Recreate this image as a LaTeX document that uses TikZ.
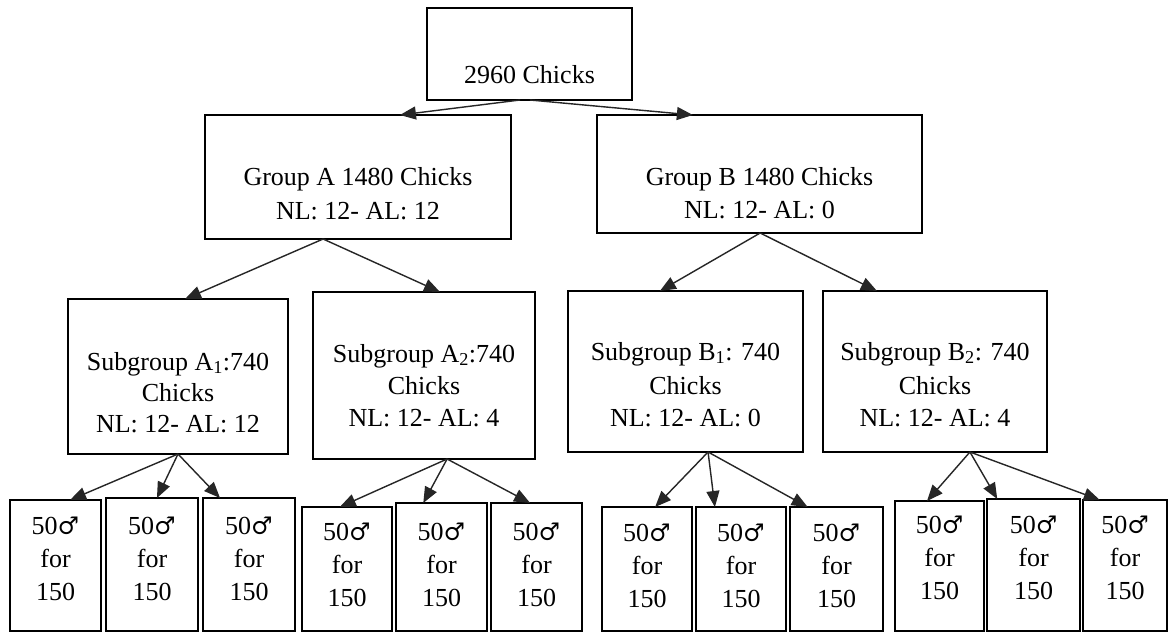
\documentclass[tikz,border=0pt]{standalone}
\usepackage{fontspec}
\setmainfont{Liberation Serif}
\newfontfamily\symf{DejaVu Serif}
\usetikzlibrary{arrows.meta,calc}
\newcommand\boxat[5]{\node[box, minimum width={(#4)-(#2)}, minimum height={(#5)-(#3)}] (#1) at (#2,#3) {};}
\newcommand\leafat[5]{%
  \boxat{#1}{#2}{#3}{#4}{631}
  \node[txt] (#1-1) at ({(#2+#4)/2},#5) {50{\symf\fontsize{24}{28}\selectfont ♂}};
  \node[txt] (#1-2) at ({(#2+#4)/2},#5+33) {for};
  \node[txt] (#1-3) at ({(#2+#4)/2},#5+66) {150};}
\newcommand\arrfrom[4]{\draw[arr] ($(#1.south west)!#2!(#1.south east)$) -- ($(#3.north west)!#4!(#3.north east)$);}
\begin{document}
\begin{tikzpicture}[x=1pt,y=-1pt,
  box/.style={draw=black, line width=1.5pt, anchor=north west, inner sep=0pt, outer sep=0pt},
  txt/.style={anchor=base, inner sep=0pt, text=black, font=\fontsize{26}{30}\selectfont},
  arr/.style={draw=black!85, line width=1.4pt, -{Triangle[length=16pt,width=13pt]}}]
\useasboundingbox[fill=white] (0,0) rectangle (1168,632);
% level 0
\boxat{root}{427}{8}{632}{100}
\node[txt] (root-t) at (529.5,83) {2960 Chicks};
% level 1
\boxat{ga}{205}{115}{511}{239}
\node[txt] (ga-1) at (358,185) {Group A 1480 Chicks};
\node[txt] (ga-2) at (358,219) {NL: 12- AL: 12};
\boxat{gb}{597}{115}{922}{233}
\node[txt] (gb-1) at (759.5,185) {Group B 1480 Chicks};
\node[txt] (gb-2) at (759.5,218) {NL: 12- AL: 0};
% level 2
\boxat{a1}{68}{299}{288}{454}
\node[txt] (a1-1) at (178,370) {Subgroup A\textsubscript{1}:740};
\node[txt] (a1-2) at (178,401) {Chicks};
\node[txt] (a1-3) at (178,432) {NL: 12- AL: 12};
\boxat{a2}{313}{292}{535}{459}
\node[txt] (a2-1) at (424,362) {Subgroup A\textsubscript{2}:740};
\node[txt] (a2-2) at (424,394) {Chicks};
\node[txt] (a2-3) at (424,426) {NL: 12- AL: 4};
\boxat{b1}{568}{291}{803}{452}
\node[txt] (b1-1) at (685.5,360) {Subgroup B\textsubscript{1}: 740};
\node[txt] (b1-2) at (685.5,394) {Chicks};
\node[txt] (b1-3) at (685.5,426) {NL: 12- AL: 0};
\boxat{b2}{823}{291}{1047}{452}
\node[txt] (b2-1) at (935,360) {Subgroup B\textsubscript{2}: 740};
\node[txt] (b2-2) at (935,394) {Chicks};
\node[txt] (b2-3) at (935,426) {NL: 12- AL: 4};
% leaves
\leafat{a11}{10}{500}{101}{534}
\leafat{a12}{106}{498}{198}{534}
\leafat{a13}{203}{498}{295}{534}
\leafat{a21}{302}{507}{392}{540}
\leafat{a22}{396}{503}{487}{540}
\leafat{a23}{491}{503}{582}{540}
\leafat{b11}{602}{507}{692}{541}
\leafat{b12}{696}{507}{786}{541}
\leafat{b13}{790}{507}{883}{541}
\leafat{b21}{895}{501}{984}{533}
\leafat{b22}{987}{499}{1080}{533}
\leafat{b23}{1083}{500}{1167}{533}
% connectors
\arrfrom{root}{0.454}{ga}{0.637}
\arrfrom{root}{0.502}{gb}{0.295}
\arrfrom{ga}{0.386}{a1}{0.532}
\arrfrom{ga}{0.386}{a2}{0.572}
\arrfrom{gb}{0.502}{b1}{0.391}
\arrfrom{gb}{0.502}{b2}{0.241}
\arrfrom{a1}{0.5}{a11}{0.66}
\arrfrom{a1}{0.5}{a12}{0.554}
\arrfrom{a1}{0.5}{a13}{0.185}
\arrfrom{a2}{0.604}{a21}{0.42}
\arrfrom{a2}{0.604}{a22}{0.30}
\arrfrom{a2}{0.604}{a23}{0.43}
\arrfrom{b1}{0.596}{b11}{0.59}
\arrfrom{b1}{0.596}{b12}{0.21}
\arrfrom{b1}{0.596}{b13}{0.19}
\arrfrom{b2}{0.656}{b21}{0.36}
\arrfrom{b2}{0.656}{b22}{0.11}
\arrfrom{b2}{0.656}{b23}{0.20}
\end{tikzpicture}
\end{document}
